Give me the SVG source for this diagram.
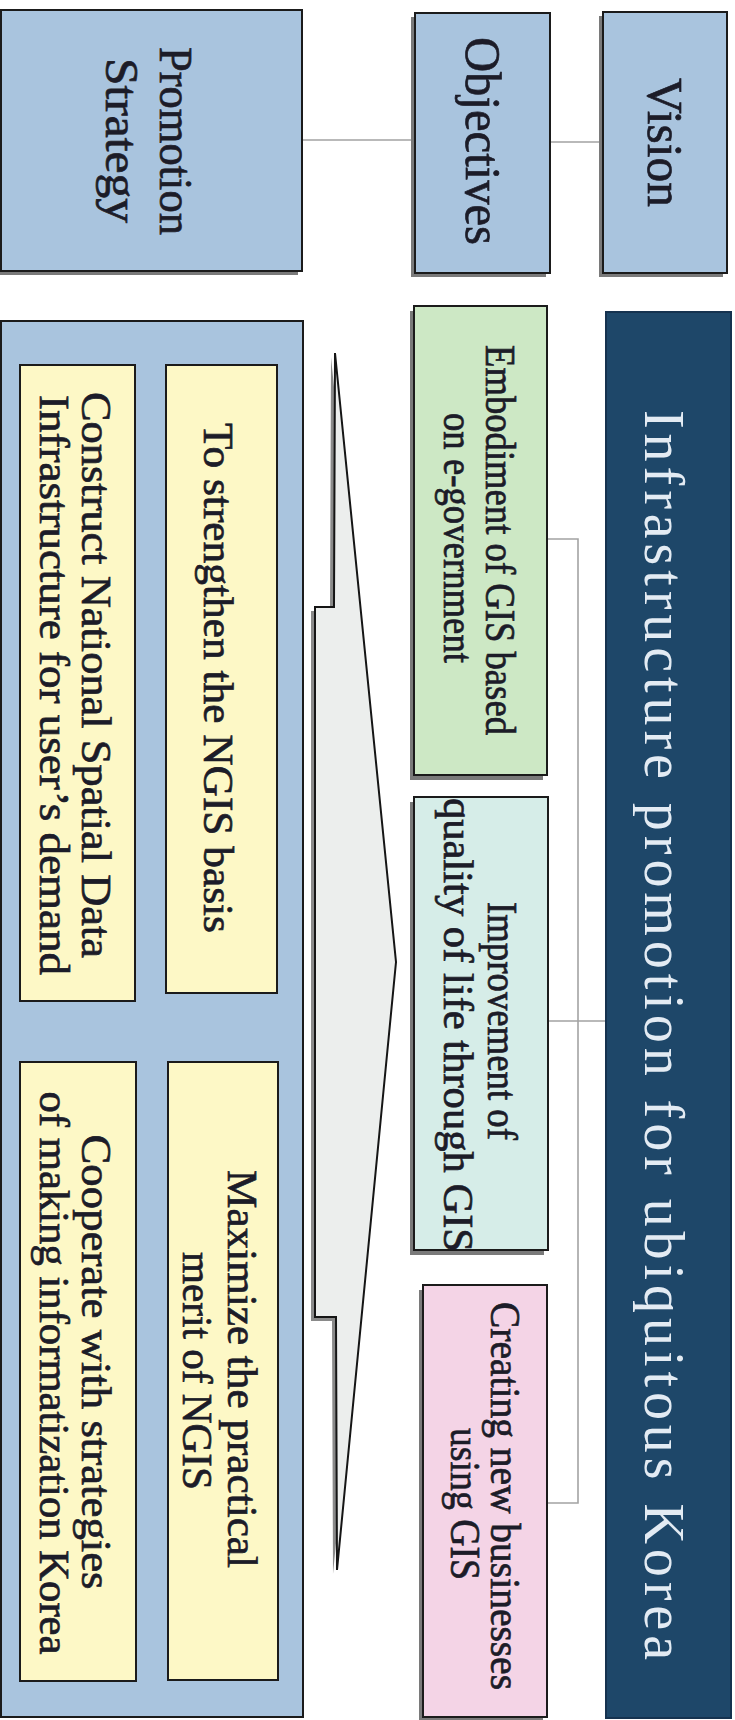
<svg xmlns="http://www.w3.org/2000/svg" width="735" height="1720" viewBox="0 0 735 1720">
<defs>
<style>
.box{stroke:#1b1b1b;stroke-width:2}
.sh{fill:#7a7a7a}
.hdr{fill:#a9c4de}
.yel{fill:#fdf8c6;stroke:#1b1b1b;stroke-width:2}
.t{font-family:"Liberation Serif","DejaVu Serif",serif;fill:#1c1c28;stroke:#1c1c28;stroke-width:0.7;text-anchor:middle}
.lt{font-family:"Liberation Serif","DejaVu Serif",serif;fill:#e3ebf3;text-anchor:middle}
.conn{stroke:#a3a3a3;stroke-width:1.6;fill:none}
</style>
</defs>
<rect width="735" height="1720" fill="#ffffff"/>

<g id="connectors">
<path class="conn" d="M302 140 H415 M550 142 H603" stroke-width="2"/>
<path class="conn" d="M547 539 H578 V1503 H547 M549 1021 H606"/>
</g>

<g id="promotion-strategy-header">
<rect class="sh" x="-3" y="14" width="301" height="261"/>
<rect class="hdr box" x="1" y="10" width="301" height="261"/>
<text class="t" font-size="46" textLength="188" lengthAdjust="spacingAndGlyphs" transform="translate(160,141) rotate(90)">Promotion</text>
<text class="t" font-size="46" textLength="165" lengthAdjust="spacingAndGlyphs" transform="translate(106,140.5) rotate(90)">Strategy</text>
</g>

<g id="objectives-header">
<rect class="sh" x="411" y="17" width="135" height="260"/>
<rect class="hdr box" x="415" y="13" width="135" height="260"/>
<text class="t" font-size="51" textLength="208" lengthAdjust="spacingAndGlyphs" transform="translate(466,141) rotate(90)">Objectives</text>
</g>

<g id="vision-header">
<rect class="sh" x="599" y="16" width="124" height="261"/>
<rect class="hdr box" x="603" y="12" width="124" height="261"/>
<text class="t" font-size="50" textLength="129" lengthAdjust="spacingAndGlyphs" transform="translate(648,142.5) rotate(90)">Vision</text>
</g>

<g id="vision">
<rect x="606" y="312" width="125" height="1406" fill="#1e4769" stroke="#15324f" stroke-width="2"/>
<text class="lt" font-size="56" textLength="1250" lengthAdjust="spacing" transform="translate(645,1035) rotate(90)">Infrastructure promotion for ubiquitous Korea</text>
</g>

<g id="objective-1">
<rect class="sh" x="410" y="311" width="133" height="469"/>
<rect class="box" x="414" y="306" width="133" height="469" fill="#cde8c5"/>
<text class="t" font-size="42" textLength="390" lengthAdjust="spacingAndGlyphs" transform="translate(486,540) rotate(90)">Embodiment of GIS based</text>
<text class="t" font-size="42" textLength="250" lengthAdjust="spacingAndGlyphs" transform="translate(444,538) rotate(90)">on e-government</text>
</g>

<g id="objective-2">
<rect class="sh" x="410" y="802" width="134" height="453"/>
<rect class="box" x="414" y="797" width="134" height="453" fill="#d6ede8"/>
<text class="t" font-size="42" textLength="238" lengthAdjust="spacingAndGlyphs" transform="translate(488,1021) rotate(90)">Improvement of</text>
<text class="t" font-size="42" textLength="454" lengthAdjust="spacingAndGlyphs" transform="translate(444,1025) rotate(90)">quality of life through GIS</text>
</g>

<g id="objective-3">
<rect class="sh" x="419" y="1290" width="124" height="432"/>
<rect class="box" x="423" y="1285" width="124" height="432" fill="#f4d4e6"/>
<text class="t" font-size="42" textLength="388" lengthAdjust="spacingAndGlyphs" transform="translate(491,1496) rotate(90)">Creating new businesses</text>
<text class="t" font-size="42" textLength="152" lengthAdjust="spacingAndGlyphs" transform="translate(451,1504) rotate(90)">using GIS</text>
</g>

<g id="arrow">
<polygon points="331,357 392,966 333,1574 332,1321 311,1321 311,611 330,611" fill="#8a8a8a"/>
<polygon points="335,353 396,962 337,1570 336,1317 315,1317 315,607 334,607" fill="#eceeed" stroke="#151515" stroke-width="2" stroke-linejoin="miter"/>
</g>

<g id="promotion-strategy">
<rect class="hdr box" x="1" y="321" width="302" height="1396"/>
</g>

<g id="strategy-1">
<rect class="yel" x="166" y="365" width="111" height="628"/>
<text class="t" font-size="42" textLength="510" lengthAdjust="spacingAndGlyphs" transform="translate(204,678) rotate(90)">To strengthen the NGIS basis</text>
</g>

<g id="strategy-2">
<rect class="yel" x="20" y="365" width="115" height="636"/>
<text class="t" font-size="42" textLength="566" lengthAdjust="spacingAndGlyphs" transform="translate(82,675) rotate(90)">Construct National Spatial Data</text>
<text class="t" font-size="42" textLength="580" lengthAdjust="spacingAndGlyphs" transform="translate(40,685) rotate(90)">Infrastructure for user’s demand</text>
</g>

<g id="strategy-3">
<rect class="yel" x="168" y="1062" width="110" height="618"/>
<text class="t" font-size="42" textLength="398" lengthAdjust="spacingAndGlyphs" transform="translate(228,1369) rotate(90)">Maximize the practical</text>
<text class="t" font-size="42" textLength="238" lengthAdjust="spacingAndGlyphs" transform="translate(183,1371) rotate(90)">merit of NGIS</text>
</g>

<g id="strategy-4">
<rect class="yel" x="20" y="1062" width="116" height="619"/>
<text class="t" font-size="42" textLength="455" lengthAdjust="spacingAndGlyphs" transform="translate(82,1362) rotate(90)">Cooperate with strategies</text>
<text class="t" font-size="42" textLength="563" lengthAdjust="spacingAndGlyphs" transform="translate(40,1373) rotate(90)">of making informatization Korea</text>
</g>
</svg>
